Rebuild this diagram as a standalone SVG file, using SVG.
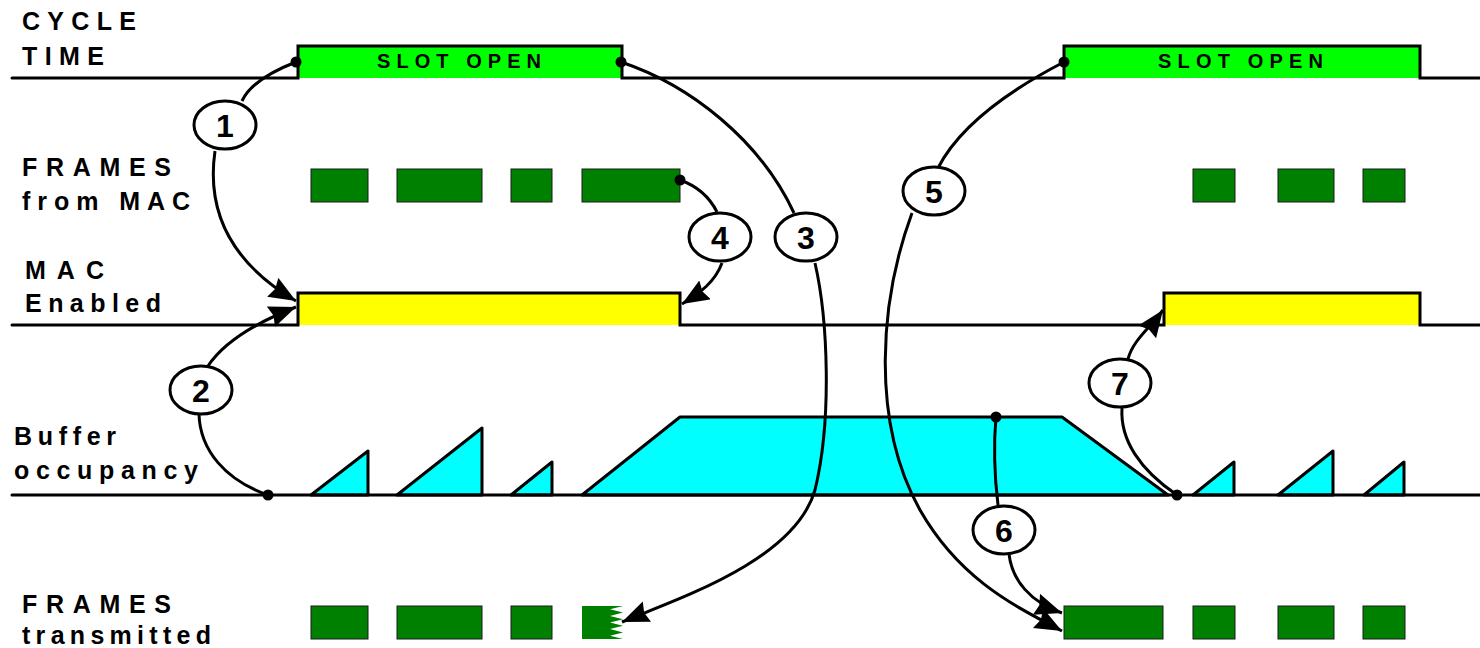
<svg xmlns="http://www.w3.org/2000/svg" width="1480" height="648" viewBox="0 0 1480 648">
  <style>
    .lbl { font-family: "Liberation Sans", Arial, sans-serif; font-weight: bold; font-size: 25px; fill: #000; }
    .slot { font-family: "Liberation Sans", Arial, sans-serif; font-weight: bold; font-size: 20px; fill: #000; }
    .ax { fill: none; stroke: #000; stroke-width: 3; stroke-linejoin: miter; stroke-linecap: round; }
    .frm { fill: #008000; stroke: #1a1a1a; stroke-width: 1; }
    .buf { fill: #00ffff; stroke: #000; stroke-width: 3; stroke-linejoin: round; }
    .con { fill: none; stroke: #000; stroke-width: 3; }
    .dot { fill: #000; }
    .num ellipse { fill: #fff; stroke: #000; stroke-width: 3; }
    .num text { font-family: "Liberation Sans", Arial, sans-serif; font-weight: bold; font-size: 32px; fill: #000; text-anchor: middle; }
  </style>
  <defs>
    <marker id="head" markerUnits="userSpaceOnUse" markerWidth="30" markerHeight="24" refX="27" refY="11" orient="auto">
      <path d="M0,0 L27,11 L0,22 L3,11 z" fill="#000"/>
    </marker>
  </defs>

  <rect width="1480" height="648" fill="#fff"/>

  <!-- row labels -->
  <g id="labels">
    <text class="lbl" x="22" y="30" textLength="114">CYCLE</text>
    <text class="lbl" x="22" y="65" textLength="82">TIME</text>
    <text class="lbl" x="22" y="176" textLength="149">FRAMES</text>
    <text class="lbl" x="22" y="210" textLength="168">from MAC</text>
    <text class="lbl" x="25" y="279" textLength="79">MAC</text>
    <text class="lbl" x="25" y="312" textLength="136">Enabled</text>
    <text class="lbl" x="14" y="445" textLength="102">Buffer</text>
    <text class="lbl" x="14" y="479" textLength="184">occupancy</text>
    <text class="lbl" x="22" y="613" textLength="149">FRAMES</text>
    <text class="lbl" x="22" y="644" textLength="189">transmitted</text>
  </g>

  <!-- cycle time: slot open pulses -->
  <g id="cycle-time">
    <rect x="298" y="46" width="324" height="32" fill="#00ff00"/>
    <rect x="1064" y="46" width="356" height="32" fill="#00ff00"/>
    <path class="ax" d="M12,78 H298 V46 H622 V78 H1064 V46 H1420 V78 H1480"/>
    <text class="slot" x="377" y="68" textLength="164">SLOT OPEN</text>
    <text class="slot" x="1158" y="68" textLength="165">SLOT OPEN</text>
  </g>

  <!-- frames arriving from the MAC -->
  <g id="frames-from-mac">
    <rect class="frm" x="311" y="169" width="57" height="33"/>
    <rect class="frm" x="397" y="169" width="85" height="33"/>
    <rect class="frm" x="511" y="169" width="41" height="33"/>
    <rect class="frm" x="582" y="169" width="98" height="33"/>
    <rect class="frm" x="1193" y="169" width="42" height="33"/>
    <rect class="frm" x="1278" y="169" width="56" height="33"/>
    <rect class="frm" x="1363" y="169" width="42" height="33"/>
  </g>

  <!-- MAC enabled signal -->
  <g id="mac-enabled">
    <rect x="298" y="293" width="382" height="32" fill="#ffff00"/>
    <rect x="1164" y="293" width="256" height="32" fill="#ffff00"/>
    <path class="ax" d="M12,325 H298 V293 H680 V325 H1164 V293 H1420 V325 H1480"/>
  </g>

  <!-- buffer occupancy -->
  <g id="buffer-occupancy">
    <polygon class="buf" points="311,495 368,451 368,495"/>
    <polygon class="buf" points="397,495 482,428 482,495"/>
    <polygon class="buf" points="511,495 552,462 552,495"/>
    <polygon class="buf" points="582,495 680,417 1062,417 1168,495"/>
    <polygon class="buf" points="1193,495 1234,462 1234,495"/>
    <polygon class="buf" points="1278,495 1333,451 1333,495"/>
    <polygon class="buf" points="1364,495 1404,462 1404,495"/>
    <path class="ax" d="M12,495 H1480"/>
  </g>

  <!-- frames transmitted -->
  <g id="frames-transmitted">
    <rect class="frm" x="311" y="606" width="57" height="33"/>
    <rect class="frm" x="397" y="606" width="85" height="33"/>
    <rect class="frm" x="511" y="606" width="41" height="33"/>
    <polygon fill="#008000" points="582,606 623,606 610,609.3 623,612.6 610,615.9 623,619.2 610,622.5 623,625.8 610,629.1 623,632.4 610,635.7 623,639 582,639"/>
    <rect class="frm" x="1064" y="606" width="99" height="33"/>
    <rect class="frm" x="1193" y="606" width="42" height="33"/>
    <rect class="frm" x="1278" y="606" width="56" height="33"/>
    <rect class="frm" x="1363" y="606" width="42" height="33"/>
  </g>

  <!-- cause/effect connectors -->
  <g id="connectors">
    <path class="con" d="M296,62 C265,74 248,88 242,101"/>
    <path class="con" marker-end="url(#head)" d="M215,151 C205,220 240,268 296,301"/>

    <path class="con" d="M268,495 C225,480 200,450 199,414"/>
    <path class="con" marker-end="url(#head)" d="M208,366 C222,345 250,325 296,307"/>

    <path class="con" d="M621,62 C690,85 760,140 794,213"/>
    <path class="con" marker-end="url(#head)" d="M815,263 C828,320 832,420 815,490 C795,560 680,598 622,622"/>

    <path class="con" d="M680,180 C697,186 710,198 717,212"/>
    <path class="con" marker-end="url(#head)" d="M722,263 C715,282 700,293 682,304"/>

    <path class="con" d="M1064,62 C1010,90 960,125 938,168"/>
    <path class="con" marker-end="url(#head)" d="M912,213 C880,300 870,420 920,510 C960,580 1015,606 1062,631"/>

    <path class="con" d="M996,417 C993,450 995,480 998,505"/>
    <path class="con" marker-end="url(#head)" d="M1009,554 C1012,580 1030,602 1062,613"/>

    <path class="con" d="M1177,495 C1140,470 1120,440 1122,408"/>
    <path class="con" marker-end="url(#head)" d="M1128,359 C1133,340 1150,328 1163,310"/>

    <circle class="dot" cx="296" cy="62" r="5.5"/>
    <circle class="dot" cx="268" cy="495" r="5.5"/>
    <circle class="dot" cx="621" cy="62" r="5.5"/>
    <circle class="dot" cx="680" cy="180" r="5.5"/>
    <circle class="dot" cx="1064" cy="62" r="5.5"/>
    <circle class="dot" cx="996" cy="417" r="5.5"/>
    <circle class="dot" cx="1177" cy="495" r="5.5"/>
  </g>

  <!-- numbered steps -->
  <g id="step-1" class="num"><ellipse cx="225" cy="125" rx="31" ry="24"/><text x="225" y="137">1</text></g>
  <g id="step-2" class="num"><ellipse cx="201" cy="390" rx="31" ry="24"/><text x="201" y="402">2</text></g>
  <g id="step-3" class="num"><ellipse cx="806" cy="237" rx="31" ry="24"/><text x="806" y="249">3</text></g>
  <g id="step-4" class="num"><ellipse cx="720" cy="237" rx="31" ry="24"/><text x="720" y="249">4</text></g>
  <g id="step-5" class="num"><ellipse cx="934" cy="191" rx="31" ry="24"/><text x="934" y="203">5</text></g>
  <g id="step-6" class="num"><ellipse cx="1004" cy="530" rx="31" ry="24"/><text x="1004" y="542">6</text></g>
  <g id="step-7" class="num"><ellipse cx="1120" cy="383" rx="31" ry="24"/><text x="1120" y="395">7</text></g>
</svg>
